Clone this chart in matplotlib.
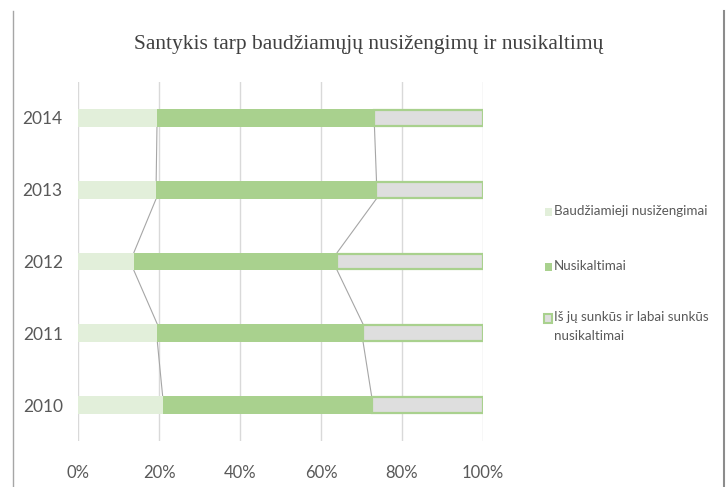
import matplotlib
matplotlib.use("Agg")
import matplotlib.pyplot as plt
from matplotlib.patches import Rectangle
from matplotlib.lines import Line2D
import numpy as np

# === Data (percent shares) ===
years = ["2010", "2011", "2012", "2013", "2014"]
nusizengimai = [20.9, 19.6, 13.8, 19.3, 19.5]
nusikaltimai = [51.6, 50.8, 50.2, 54.4, 53.7]
sunkus = [27.5, 29.6, 36.0, 26.3, 26.8]

legend_labels = ["Baudžiamieji nusižengimai", "Nusikaltimai",
                 "Iš jų sunkūs ir labai sunkūs\nnusikaltimai"]
title = "Santykis tarp baudžiamųjų nusižengimų ir nusikaltimų"

# === Colors ===
c_light = "#e2efda"
c_green = "#a9d18e"
c_gray = "#dedede"
txt = "#595959"

fig = plt.figure(figsize=(7.28, 4.87), dpi=100)
ax = fig.add_axes([78 / 728, 1 - 441 / 487, 405 / 728, 359 / 487])

y = np.arange(len(years))
h = 0.25
left1 = np.zeros(len(years))
left2 = np.array(nusizengimai)
left3 = left2 + np.array(nusikaltimai)

ax.barh(y, nusizengimai, h, left=left1, color=c_light, zorder=3)
ax.barh(y, nusikaltimai, h, left=left2, color=c_green, zorder=3)
ax.barh(y, sunkus, h - 2 / 72, left=left3, color=c_gray,
        edgecolor=c_green, linewidth=1.6, zorder=3)

# series lines between neighbouring bars
for edges in (left2, left3):
    for i in range(len(years) - 1):
        ax.plot([edges[i], edges[i + 1]], [y[i] + h / 2, y[i + 1] - h / 2],
                color="#a6a6a6", linewidth=0.8, zorder=2)

ax.set_xlim(0, 100)
ax.set_ylim(-0.5, len(years) - 0.5)
ax.set_xticks(np.arange(0, 101, 20))
ax.set_xticklabels([f"{v}%" for v in range(0, 101, 20)])
ax.set_yticks(y)
ax.set_yticklabels(years)
ax.grid(axis="x", color="#d9d9d9", linewidth=1, zorder=0)
ax.tick_params(length=0)
ax.tick_params(axis="x", pad=17, labelsize=12, labelcolor=txt)
ax.tick_params(axis="y", pad=11, labelsize=12.5, labelcolor=txt)
for lab in ax.get_xticklabels() + ax.get_yticklabels():
    lab.set_fontfamily("Lato")
for s in ax.spines.values():
    s.set_visible(False)

fig.text(369 / 728, 1 - 45 / 487, title, ha="center", va="center",
         fontsize=15.5, family="Liberation Serif", color="#404040")

# === Legend ===
W, H = 728, 487
entries = [(212, c_light, None), (267, c_green, None), (318, c_gray, c_green)]
for (yc, fc, ec), lab in zip(entries, legend_labels):
    if ec is None:
        fig.patches.append(Rectangle(((545) / W, 1 - (yc + 4) / H), 7 / W, 8 / H,
                                     transform=fig.transFigure, facecolor=fc,
                                     edgecolor="none"))
    else:
        fig.patches.append(Rectangle(((544) / W, 1 - (yc + 4.5) / H), 8 / W, 9 / H,
                                     transform=fig.transFigure, facecolor=fc,
                                     edgecolor=ec, linewidth=1.5))
    fig.text(554 / W, 1 - (yc - 7) / H, lab, ha="left", va="top",
             fontsize=9.6, family="Lato", color=txt, linespacing=1.7)

# frame lines at left and right
fig.add_artist(Line2D([13 / W, 13 / W], [0, 1 - 11 / H], transform=fig.transFigure,
                      color="#a6a6a6", linewidth=1))
fig.add_artist(Line2D([724 / W, 724 / W], [0, 1 - 11 / H], transform=fig.transFigure,
                      color="#8c8c8c", linewidth=1.5))

fig.savefig("out.png", dpi=100)
